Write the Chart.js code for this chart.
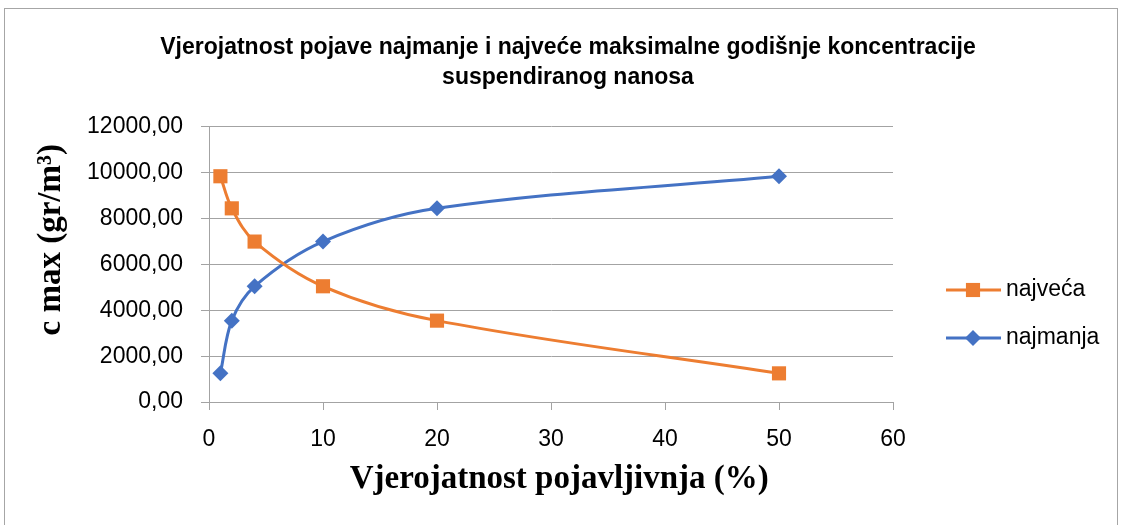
<!DOCTYPE html>
<html>
<head>
<meta charset="utf-8">
<script src="https://cdn.jsdelivr.net/npm/chart.js@4.4.1/dist/chart.umd.min.js"></script>
<style>
  body { margin: 0; background: #fff; }
  #wrap { position: relative; width: 1123px; height: 525px; }
  #frame { position: absolute; left: 4px; top: 8px; width: 1114px; height: 540px; border: 1px solid #a6a6a6; box-sizing: border-box; }
  canvas { position: absolute; left: 0; top: 0; }
</style>
</head>
<body>
<div id="wrap">
  <div id="frame"></div>
  <canvas id="myChart" width="1123" height="525"></canvas>
</div>
<script>
// Probability of occurrence (%) and max annual concentration (gr/m3)
const xValues = [1, 2, 4, 10, 20, 50];
const najvecaValues = [9850, 8450, 7000, 5050, 3550, 1250];
const najmanjaValues = [1250, 3550, 5050, 7000, 8450, 9850];
const seriesNames = ['najveća', 'najmanja'];
const titleLines = ['Vjerojatnost pojave najmanje i najveće maksimalne godišnje koncentracije', 'suspendiranog nanosa'];

const orange = '#ED7D31';
const blue = '#4472C4';
const gridGray = '#a3a3a3';

function toPoints(values) {
    return xValues.map((x, i) => ({ x: x, y: values[i] }));
}

// Excel style legend: line segment with the marker in its middle
const sideLegend = {
    id: 'sideLegend',
    afterDraw(chart) {
        const ctx = chart.ctx;
        const rows = [290, 338];
        ctx.save();
        chart.data.datasets.forEach((ds, i) => {
            const y = rows[i];
            ctx.strokeStyle = ds.borderColor;
            ctx.lineWidth = 3;
            ctx.beginPath();
            ctx.moveTo(946, y);
            ctx.lineTo(1001, y);
            ctx.stroke();
            ctx.fillStyle = ds.backgroundColor;
            Chart.helpers.drawPoint(ctx, {
                pointStyle: ds.pointStyle,
                radius: ds.pointRadius,
                borderWidth: 0
            }, 973, y);
            ctx.fillStyle = '#000';
            ctx.font = '23px "Liberation Sans", Arial, sans-serif';
            ctx.textBaseline = 'middle';
            ctx.fillText(ds.label, 1006, y);
        });
        ctx.restore();
    }
};

const ctx = document.getElementById('myChart').getContext('2d');
const chart = new Chart(ctx, {
    type: 'line',
    data: {
        datasets: [
            {
                label: seriesNames[0],
                data: toPoints(najvecaValues),
                borderColor: orange,
                backgroundColor: orange,
                borderWidth: 3,
                pointStyle: 'rect',
                pointRadius: 10,
                pointHoverRadius: 10,
                pointBorderWidth: 0,
                tension: 0.35
            },
            {
                label: seriesNames[1],
                data: toPoints(najmanjaValues),
                borderColor: blue,
                backgroundColor: blue,
                borderWidth: 3,
                pointStyle: 'rectRot',
                pointRadius: 8,
                pointHoverRadius: 8,
                pointBorderWidth: 0,
                tension: 0.35
            }
        ]
    },
    options: {
        responsive: false,
        animation: false,
        layout: { padding: { left: 30, right: 17, top: 33, bottom: 26 } },
        plugins: {
            legend: { display: false },
            tooltip: { enabled: false },
            title: {
                display: true,
                text: titleLines,
                color: '#000',
                font: { family: '"Liberation Sans", Arial, sans-serif', size: 23, weight: 'bold', lineHeight: 1.304 },
                padding: { top: 0, bottom: 34 }
            }
        },
        scales: {
            x: {
                type: 'linear',
                min: 0,
                max: 60,
                afterFit: s => { s.height = 97; },
                ticks: {
                    stepSize: 10,
                    color: '#000',
                    padding: 16,
                    font: { family: '"Liberation Sans", Arial, sans-serif', size: 23 }
                },
                grid: { drawOnChartArea: false, color: gridGray, tickLength: 8 },
                border: { color: gridGray, width: 1 },
                title: {
                    display: true,
                    text: '\u00a0\u00a0Vjerojatnost pojavljivnja (%)',
                    color: '#000',
                    font: { family: '"Liberation Serif", "Times New Roman", serif', size: 33, weight: 'bold' },
                    padding: { top: 8, bottom: 0 }
                }
            },
            y: {
                min: 0,
                max: 12000,
                afterFit: s => { s.width = 179; },
                ticks: {
                    stepSize: 2000,
                    color: '#000',
                    padding: 18,
                    font: { family: '"Liberation Sans", Arial, sans-serif', size: 23 },
                    callback: v => v.toFixed(2).replace('.', ',')
                },
                grid: { color: gridGray, lineWidth: 1, tickLength: 8 },
                border: { color: gridGray, width: 1 },
                title: {
                    display: true,
                    text: '\u00a0\u00a0\u00a0\u00a0\u00a0\u00a0c max (gr/m³)',
                    color: '#000',
                    font: { family: '"Liberation Serif", "Times New Roman", serif', size: 33, weight: 'bold' },
                    padding: { top: 2, bottom: 10 }
                }
            },
            // empty box on the right keeps room for the legend
            side: {
                type: 'linear',
                position: 'right',
                afterFit: s => { s.width = 213; },
                ticks: { display: false },
                grid: { display: false },
                border: { display: false }
            }
        }
    },
    plugins: [sideLegend]
});
</script>
</body>
</html>
